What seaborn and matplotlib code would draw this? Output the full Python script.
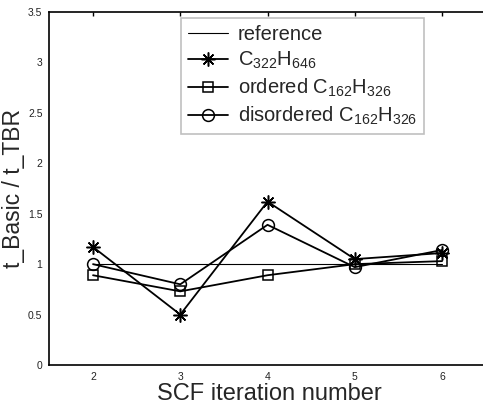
import matplotlib
matplotlib.use("Agg")
import matplotlib.pyplot as plt
import seaborn as sns
import pandas as pd

sns.set_theme(style="white")
plt.rcParams['font.family'] = ['Liberation Sans', 'DejaVu Sans']
plt.rcParams['mathtext.fontset'] = 'custom'
plt.rcParams['mathtext.rm'] = 'Liberation Sans'
plt.rcParams['mathtext.it'] = 'Liberation Sans:italic'

iterations = [2, 3, 4, 5, 6]
reference = [1.0, 1.0, 1.0, 1.0, 1.0]
c322 = [1.17, 0.50, 1.62, 1.05, 1.11]
ordered = [0.89, 0.73, 0.89, 1.00, 1.03]
disordered = [1.00, 0.80, 1.39, 0.97, 1.14]

labels = ["reference", r"C$_{322}$H$_{646}$",
          r"ordered C$_{162}$H$_{326}$", r"disordered C$_{162}$H$_{326}$"]
xticks = [2, 3, 4, 5, 6]
yticks = [0, 0.5, 1, 1.5, 2, 2.5, 3, 3.5]
yticklabels = ["0", "0.5", "1", "1.5", "2", "2.5", "3", "3.5"]

fig = plt.figure(figsize=(4.83, 4.08), dpi=100)
ax = fig.add_axes([49.4 / 483, 43 / 408, 440 / 483, 353 / 408])

series = [reference, c322, ordered, disordered]
markers = [None, (8, 2, 0), 's', 'o']
lws = [0.8, 1.3, 1.3, 1.3]
msizes = [0, 10, 7, 8.5]
for vals, lab, mk, lw, ms in zip(series, labels, markers, lws, msizes):
    df = pd.DataFrame({"x": iterations, "y": vals})
    kw = dict(color="black", linewidth=lw, label=lab)
    if mk is not None:
        kw.update(marker=mk, markersize=ms, markerfacecolor="none",
                  markeredgecolor="black", markeredgewidth=1.1)
    sns.lineplot(data=df, x="x", y="y", ax=ax, **kw)

ax.set_xlim(1.5, 1.5 + 440 / 87.25)
ax.set_ylim(0, 3.5)
ax.set_xticks(xticks)
ax.set_xticklabels([str(t) for t in xticks], fontsize=7.5)
ax.set_yticks(yticks)
ax.set_yticklabels(yticklabels, fontsize=7.5)
ax.tick_params(direction="in", length=3, width=1, top=True, right=True,
               pad=5, colors="black")
for lbl in ax.get_xticklabels() + ax.get_yticklabels():
    lbl.set_color("#222222")
for sp in ax.spines.values():
    sp.set_color("black")
    sp.set_linewidth(1.2)

ax.set_xlabel("SCF iteration number", fontsize=17, labelpad=1)
ax.set_ylabel("t_Basic / t_TBR", fontsize=16.5, labelpad=2)

leg = ax.legend(loc="upper left", bbox_to_anchor=(0.298, 0.982), fontsize=14.5,
                frameon=True, fancybox=False, edgecolor="#b0b0b0",
                handlelength=2.0, handletextpad=0.5, labelspacing=0.28,
                borderpad=0.35, borderaxespad=0)
leg.get_frame().set_linewidth(1.2)

fig.savefig("out.png", dpi=100)
